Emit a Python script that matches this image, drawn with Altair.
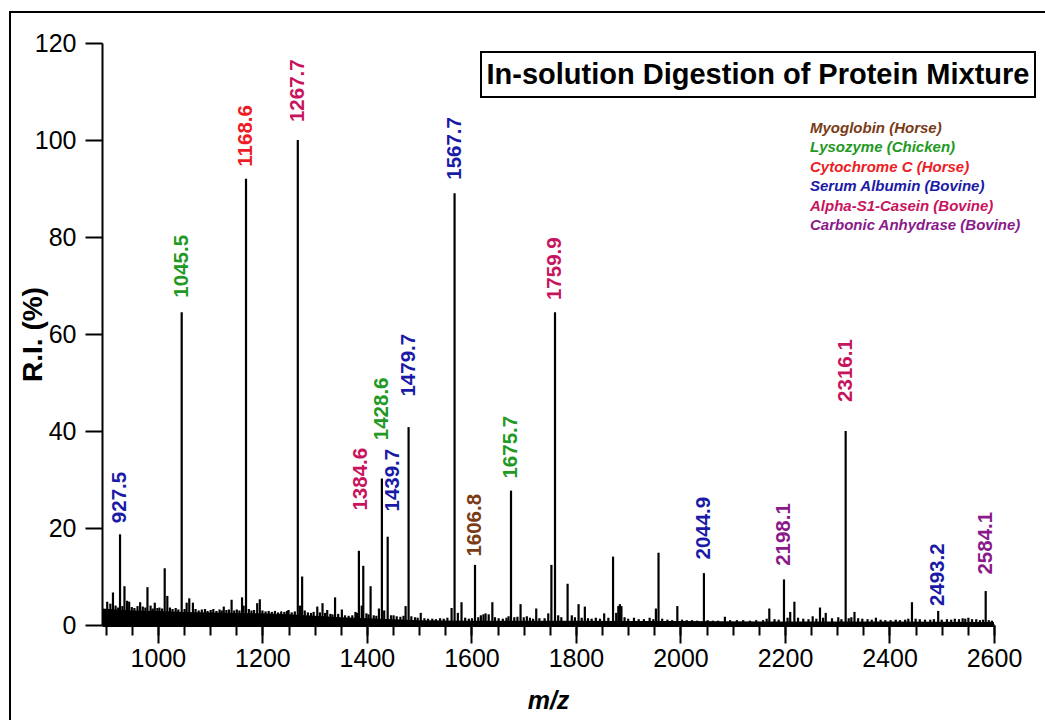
import altair as alt
import pandas as pd

# Assigned tryptic peptide peaks: m/z, relative intensity (%), source protein
peak_mz = [927.5, 1045.5, 1168.6, 1267.7, 1384.6, 1428.6, 1439.7, 1479.7, 1567.7,
           1606.8, 1675.7, 1759.9, 2044.9, 2198.1, 2316.1, 2493.2, 2584.1]
peak_ri = [18.7, 64.5, 92.0, 100.0, 15.3, 30.2, 18.2, 40.8, 89.0,
           12.4, 27.7, 64.5, 10.7, 9.4, 40.0, 2.9, 7.0]
peak_protein = ["Serum Albumin", "Lysozyme", "Cytochrome C", "Alpha-S1-Casein",
                "Alpha-S1-Casein", "Lysozyme", "Serum Albumin", "Serum Albumin",
                "Serum Albumin", "Myoglobin", "Lysozyme", "Alpha-S1-Casein",
                "Serum Albumin", "Carbonic Anhydrase", "Alpha-S1-Casein",
                "Serum Albumin", "Carbonic Anhydrase"]
# where each m/z tag sits (m/z, R.I.)
label_mz = [927.5, 1045.5, 1168.6, 1267.7, 1389.0, 1428.6, 1449.0, 1479.7, 1567.7,
            1606.8, 1675.7, 1759.9, 2044.9, 2198.1, 2316.1, 2493.2, 2584.1]
label_ri = [21.0, 67.5, 94.5, 103.7, 23.6, 38.1, 23.4, 47.1, 91.8,
            14.1, 30.2, 67.0, 13.5, 12.2, 46.0, 3.9, 10.4]

# Unassigned peaks and chemical noise
minor_mz = [903, 909, 914, 919, 924, 932, 936, 941, 945, 950, 955, 961, 966, 971, 976,
            980, 986, 990, 994, 999, 1003, 1008, 1013, 1018, 1023, 1028, 1034, 1039,
            1051, 1055, 1060, 1067, 1072, 1078, 1084, 1090, 1095, 1101, 1106, 1112,
            1118, 1122, 1126, 1131, 1136, 1141, 1146, 1151, 1156, 1161, 1164, 1174,
            1179, 1184, 1190, 1195, 1200, 1206, 1212, 1218, 1224, 1230, 1236, 1242,
            1247, 1250, 1256, 1262, 1272, 1276, 1281, 1287, 1293, 1298, 1305, 1310,
            1315, 1320, 1324, 1330, 1334, 1339, 1345, 1352, 1358, 1365, 1372, 1378,
            1381, 1390, 1393, 1399, 1403, 1407, 1413, 1418, 1423, 1433, 1446, 1451,
            1457, 1464, 1470, 1474, 1485, 1492, 1497, 1503, 1510, 1517, 1525, 1532,
            1540, 1547, 1554, 1562, 1574, 1581, 1588, 1595, 1601, 1613, 1618, 1623,
            1627, 1633, 1640, 1645, 1652, 1660, 1667, 1671, 1682, 1688, 1694, 1700,
            1706, 1712, 1718, 1724, 1730, 1740, 1747, 1753, 1766, 1772, 1784, 1792,
            1798, 1805, 1811, 1817, 1823, 1830, 1838, 1846, 1854, 1862, 1871, 1877,
            1881, 1884, 1887, 1893, 1900, 1911, 1920, 1930, 1941, 1948, 1953, 1958,
            1965, 1975, 1984, 1994, 2003, 2012, 2022, 2032, 2052, 2062, 2072, 2085,
            2095, 2108, 2120, 2133, 2145, 2158, 2165, 2170, 2180, 2188, 2205, 2210,
            2218, 2225, 2235, 2245, 2253, 2260, 2267, 2273, 2278, 2290, 2302, 2308,
            2322, 2327, 2333, 2340, 2348, 2358, 2366, 2374, 2383, 2392, 2402, 2412,
            2420, 2430, 2436, 2443, 2450, 2458, 2468, 2478, 2485, 2500, 2510, 2518,
            2525, 2533, 2540, 2545, 2551, 2558, 2566, 2573, 2579, 2590, 2596]
minor_ri = [4.8, 4.4, 6.7, 4.0, 3.6, 3.9, 8.0, 5.0, 4.8, 3.7, 3.5, 3.9, 4.7, 3.8, 3.6,
            7.8, 4.0, 3.4, 4.6, 3.5, 3.6, 3.4, 11.7, 6.0, 3.6, 3.3, 3.5, 3.2,
            3.3, 4.6, 5.5, 4.6, 3.3, 3.0, 3.2, 3.3, 2.9, 3.1, 3.3, 2.9,
            3.2, 3.0, 3.8, 3.1, 3.2, 5.2, 3.0, 3.2, 3.0, 5.7, 4.0, 3.3,
            3.0, 3.1, 4.5, 5.3, 3.0, 2.8, 2.9, 2.7, 2.9, 2.6, 2.8, 2.7,
            2.9, 3.1, 2.6, 2.8, 4.0, 10.0, 3.0, 2.6, 2.5, 2.7, 3.8, 2.6,
            4.5, 2.5, 3.1, 2.3, 2.2, 5.7, 2.3, 3.2, 2.0, 1.9, 2.0, 2.7,
            2.5, 4.0, 12.2, 2.4, 2.2, 8.0, 2.0, 1.9, 3.4, 3.0, 2.0, 2.0,
            1.8, 1.7, 1.9, 3.9, 1.8, 1.6, 1.5, 2.5, 1.4, 1.3, 1.3, 1.2,
            1.4, 1.3, 1.5, 3.5, 2.5, 4.7, 1.5, 1.3, 1.4, 1.6, 2.0, 2.2,
            2.4, 2.2, 4.7, 1.6, 1.4, 1.3, 1.5, 1.8, 1.6, 1.7, 4.3, 1.6,
            1.8, 1.5, 1.3, 3.4, 1.4, 1.4, 2.4, 12.4, 2.0, 1.6, 8.5, 2.0,
            1.6, 4.3, 1.5, 3.8, 1.4, 1.3, 1.5, 1.3, 2.4, 1.5, 14.1, 2.5,
            3.9, 4.3, 3.9, 1.6, 1.3, 1.5, 1.2, 1.2, 1.5, 1.2, 3.4, 14.9,
            1.3, 1.1, 1.0, 3.9, 1.1, 1.0, 1.0, 0.9, 1.0, 0.9, 0.9, 1.7,
            1.0, 1.0, 1.0, 0.9, 1.0, 1.0, 1.3, 3.4, 1.2, 1.1, 1.5, 2.7,
            4.8, 1.5, 1.3, 1.2, 1.8, 1.3, 3.6, 1.5, 2.5, 1.4, 1.6, 1.2,
            1.4, 1.6, 2.7, 1.4, 1.3, 1.2, 1.1, 1.5, 1.1, 1.0, 1.0, 1.1,
            1.0, 1.1, 1.3, 4.7, 1.3, 1.2, 1.1, 1.1, 1.2, 1.1, 1.2, 1.1,
            1.3, 1.2, 1.4, 1.3, 1.5, 1.2, 1.2, 1.0, 1.1, 1.0, 0.9]

# Top of the dense noise band
floor_mz = [893, 920, 950, 1000, 1050, 1100, 1150, 1200, 1250, 1300, 1350, 1400,
            1450, 1500, 1600, 1700, 1800, 1900, 2000, 2200, 2400, 2600]
floor_ri = [3.4, 3.2, 3.0, 2.9, 2.7, 2.6, 2.5, 2.4, 2.2, 1.9, 1.6, 1.4,
            1.2, 1.0, 0.9, 0.9, 0.9, 0.8, 0.8, 0.7, 0.7, 0.6]

proteins = ["Myoglobin", "Lysozyme", "Cytochrome C", "Serum Albumin",
            "Alpha-S1-Casein", "Carbonic Anhydrase"]
species = ["Horse", "Chicken", "Horse", "Bovine", "Bovine", "Bovine"]
protein_colors = ["#7a3b17", "#229922", "#ee1c24", "#1a1aa6", "#c8145e", "#8a1a8a"]

x_major = [1000, 1200, 1400, 1600, 1800, 2000, 2200, 2400, 2600]
x_minor = list(range(900, 2601, 50))
y_ticks = [0, 20, 40, 60, 80, 100, 120]

SANS = "Liberation Sans, Arial, sans-serif"

W, H = 892, 582

sticks = pd.DataFrame({"mz": peak_mz + minor_mz, "ri": peak_ri + minor_ri})
floor = pd.DataFrame({"mz": floor_mz, "ri": floor_ri})
tags = pd.DataFrame({
    "label_mz": label_mz,
    "label_ri": label_ri,
    "tag": [f"{m:.1f}" for m in peak_mz],
    "protein": peak_protein,
})
legend_df = pd.DataFrame({
    "protein": proteins,
    "entry": [f"{p} ({s})" for p, s in zip(proteins, species)],
})

x_scale = alt.Scale(domain=[893, 2600], nice=False, zero=False)
y_scale = alt.Scale(domain=[0, 120], nice=False)
color_scale = alt.Scale(domain=proteins, range=protein_colors)

major_axis = alt.Axis(
    orient="bottom", values=x_major, format="d", tickSize=18, tickWidth=2,
    tickColor="black", domainWidth=3, domainColor="black", labelFontSize=25,
    labelFont=SANS, labelColor="black", labelPadding=3, labelFlush=False,
    labelOverlap=False, title="m/z", titleFont=SANS, titleFontSize=25,
    titleFontStyle="italic", titleFontWeight="bold", titleColor="black",
    titlePadding=17, grid=False,
)
minor_axis = alt.Axis(
    orient="bottom", values=x_minor, tickSize=10, tickWidth=2, tickColor="black",
    labels=False, domain=False, title="", grid=False,
)
y_axis = alt.Axis(
    values=y_ticks, tickSize=17, tickWidth=2, tickColor="black",
    domainWidth=2, domainColor="black", labelFontSize=25, labelFont=SANS,
    labelColor="black", labelPadding=9, title="R.I. (%)", titleFont=SANS,
    titleFontSize=28, titleFontWeight="bold", titleColor="black",
    titleAngle=270, titleX=-55, titleY=H / 2, titleAlign="center",
    titleBaseline="bottom", grid=False,
)

noise_band = alt.Chart(floor).mark_area(color="black").encode(
    x=alt.X("mz:Q", scale=x_scale, axis=major_axis),
    y=alt.Y("ri:Q", scale=y_scale, axis=y_axis),
)
spectrum = alt.Chart(sticks).mark_rule(color="black", strokeWidth=2.2).encode(
    x=alt.X("mz:Q", scale=x_scale, axis=minor_axis),
    y=alt.Y("ri:Q", scale=y_scale, axis=y_axis),
    y2=alt.datum(0),
)
peak_tags = alt.Chart(tags).mark_text(
    angle=270, align="left", baseline="middle",
    font=SANS, fontSize=20.5, fontWeight="bold",
).encode(
    x=alt.X("label_mz:Q", scale=x_scale, axis=None),
    y=alt.Y("label_ri:Q", scale=y_scale, axis=y_axis),
    text="tag:N",
    color=alt.Color("protein:N", scale=color_scale, legend=None),
)
plot = alt.layer(noise_band, spectrum, peak_tags).resolve_axis(x="independent")

protein_key = alt.Chart(legend_df).mark_text(
    align="left", baseline="middle", font=SANS, fontSize=15,
    fontWeight="bold", fontStyle="italic",
).encode(
    x=alt.value(708),
    y=alt.Y("entry:N", scale=alt.Scale(type="point", domain=legend_df["entry"].tolist(),
                                       range=[85, 182], padding=0), axis=None),
    text="entry:N",
    color=alt.Color("protein:N", scale=color_scale, legend=None),
)

blank = alt.Data(values=[{}])
frame = alt.Chart(blank).mark_rect(fillOpacity=0, stroke="black", strokeWidth=2).encode(
    x=alt.value(-92), x2=alt.value(970), y=alt.value(-31), y2=alt.value(720),
)
title_box = alt.Chart(blank).mark_rect(fill="white", stroke="black", strokeWidth=2).encode(
    x=alt.value(379), x2=alt.value(933), y=alt.value(9), y2=alt.value(54),
)
title_text = alt.Chart(blank).mark_text(
    text="In-solution Digestion of Protein Mixture", font=SANS, fontSize=29,
    fontWeight="bold", align="center", baseline="middle", color="black",
).encode(x=alt.value(656), y=alt.value(32))

chart = alt.layer(frame, plot, protein_key, title_box, title_text).resolve_scale(
    y="independent"
).properties(
    width=W, height=H,
    padding={"left": 102, "top": 43, "right": 51, "bottom": 95},
    autosize=alt.AutoSizeParams(type="none"),
    background="white",
).configure_view(strokeWidth=0)

chart.save("out.html", embed_options={"renderer": "svg", "actions": False})
